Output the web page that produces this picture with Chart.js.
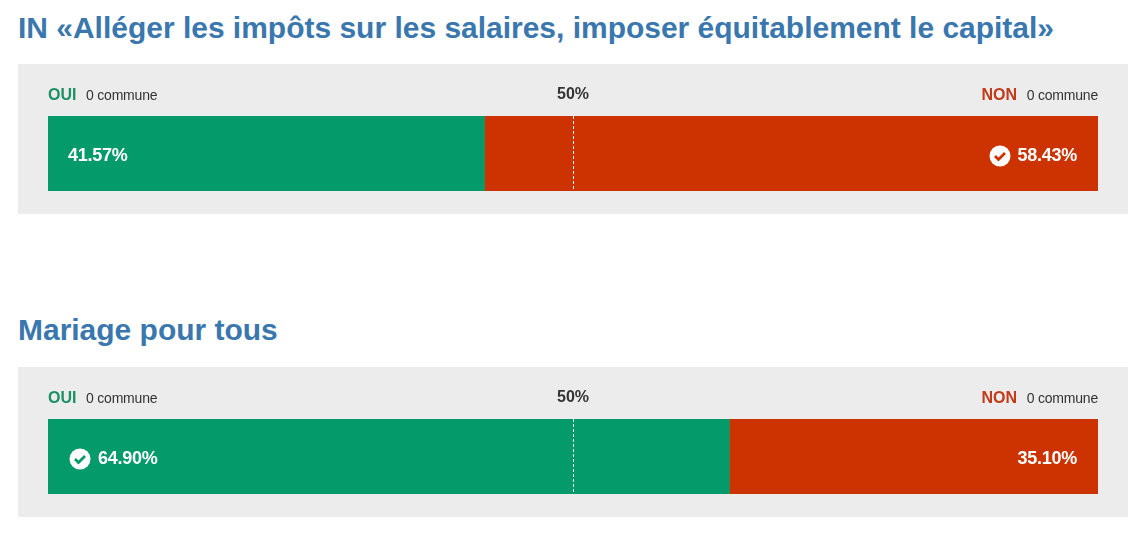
<!DOCTYPE html>
<html lang="fr">
<head>
<meta charset="utf-8">
<title>Votations</title>
<script src="https://cdn.jsdelivr.net/npm/chart.js@4"></script>
<style>
body { margin: 0; background: #fff; font-family: "Liberation Sans", Arial, sans-serif; }
h2 { position: absolute; left: 18px; margin: 0; color: #3a77ae; font-size: 29.97px; line-height: 34px; font-weight: bold; white-space: nowrap; }
.panel { position: absolute; left: 18px; width: 1110px; height: 150px; background: #ececec; }
canvas { display: block; }
</style>
</head>
<body>
<h2 style="top:11px">IN «Alléger les impôts sur les salaires, imposer équitablement le capital»</h2>
<div class="panel" style="top:64px"><canvas id="chart0" width="1110" height="150"></canvas></div>
<h2 style="top:313px">Mariage pour tous</h2>
<div class="panel" style="top:367px"><canvas id="chart1" width="1110" height="150"></canvas></div>
<script>
// values
const ouiValues = [41.57, 64.90];
const nonValues = [58.43, 35.10];
const ouiCommunes = ["0 commune", "0 commune"];
const nonCommunes = ["0 commune", "0 commune"];
const midTick = 50;

const GREEN = "#059a69";
const RED = "#cc3300";
const FONT = '"Liberation Sans", Arial, sans-serif';

// OUI / NON header and the percentages inside the bar
function labelsPlugin(i) {
    return {
        id: "labels",
        afterDraw(chart) {
            const c = chart.ctx, x = chart.scales.x, area = chart.chartArea;
            const left = x.getPixelForValue(0), right = x.getPixelForValue(100);
            const midY = (area.top + area.bottom) / 2 + 2.5, headY = area.top - 21;
            c.save();
            c.textBaseline = "middle";

            c.textAlign = "left";
            c.fillStyle = "#1c8f63";
            c.font = "bold 16px " + FONT;
            c.fillText("OUI", left, headY + 1);
            c.fillStyle = "#333";
            c.font = "14px " + FONT;
            c.letterSpacing = "-0.2px";
            c.fillText(ouiCommunes[i], left + 38, headY + 1);

            c.textAlign = "right";
            c.fillText(nonCommunes[i], right, headY + 1);
            c.letterSpacing = "0px";
            c.fillStyle = "#c4391a";
            c.font = "bold 16px " + FONT;
            c.fillText("NON", right - 81, headY + 1);

            // percentages, the winner gets a check mark
            c.fillStyle = "#fff";
            c.font = "bold 18px " + FONT;
            c.letterSpacing = "-0.25px";
            const ouiWins = ouiValues[i] > nonValues[i];
            c.textAlign = "left";
            c.fillText(ouiValues[i].toFixed(2) + "%", left + (ouiWins ? 50 : 20), midY + 0.5);
            c.textAlign = "right";
            c.fillText(nonValues[i].toFixed(2) + "%", right - 21, midY + 0.5);
            drawCheck(c, ouiWins ? left + 32 : right - 98, midY, ouiWins ? GREEN : RED);
            c.restore();
        }
    };
}

function drawCheck(c, cx, cy, color) {
    c.beginPath();
    c.arc(cx, cy, 10.5, 0, Math.PI * 2);
    c.fillStyle = "#fff";
    c.fill();
    c.beginPath();
    c.moveTo(cx - 5, cy);
    c.lineTo(cx - 1.5, cy + 3.5);
    c.lineTo(cx + 5, cy - 3);
    c.strokeStyle = color;
    c.lineWidth = 2.8;
    c.stroke();
}

ouiValues.forEach((v, i) => {
    new Chart(document.getElementById("chart" + i), {
        type: "bar",
        data: {
            labels: [""],
            datasets: [
                { label: "OUI", data: [ouiValues[i]], backgroundColor: GREEN },
                { label: "NON", data: [nonValues[i]], backgroundColor: RED }
            ]
        },
        options: {
            indexAxis: "y",
            responsive: false,
            animation: false,
            layout: { padding: { left: 30, right: 30, top: 22, bottom: 23 } },
            plugins: { legend: { display: false }, tooltip: { enabled: false } },
            datasets: { bar: { barPercentage: 1, categoryPercentage: 1 } },
            scales: {
                y: { stacked: true, display: false },
                x: {
                    stacked: true,
                    position: "top",
                    min: 0,
                    max: 100,
                    afterBuildTicks: s => { s.ticks = [{ value: midTick }]; },
                    afterFit: s => { s.height = 30; },
                    border: { display: false, dash: [3, 2] },
                    grid: { color: "#fff", z: 1, drawTicks: false, lineWidth: 1 },
                    ticks: {
                        padding: 12,
                        maxRotation: 0,
                        color: "#333",
                        font: { family: FONT, size: 16, weight: "bold" },
                        callback: val => val + "%"
                    }
                }
            }
        },
        plugins: [labelsPlugin(i)]
    });
});
</script>
</body>
</html>
